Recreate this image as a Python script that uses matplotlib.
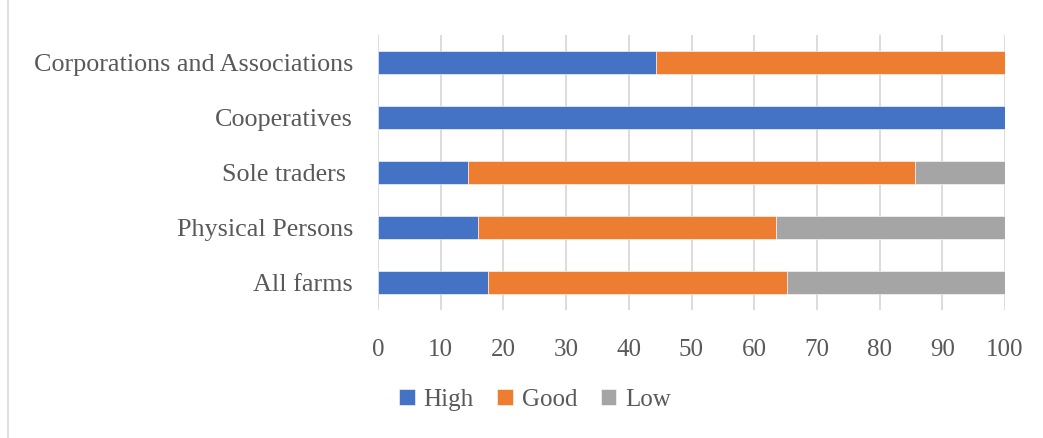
import matplotlib
matplotlib.use("Agg")
import matplotlib.pyplot as plt
from matplotlib.patches import Rectangle

categories = ["All farms", "Physical Persons", "Sole traders ", "Cooperatives",
              "Corporations and Associations"]
high = [17.5, 16.0, 14.3, 100.0, 44.4]
good = [47.7, 47.4, 71.4, 0.0, 55.6]
low = [34.8, 36.6, 14.3, 0.0, 0.0]
series_names = ["High", "Good", "Low"]
colors = ["#4472C4", "#ED7D31", "#A5A5A5"]
xticks = list(range(0, 101, 10))

plt.rcParams['font.family'] = ['Liberation Serif', 'DejaVu Serif']
text_color = "#595959"

fig = plt.figure(figsize=(10.43, 4.38), dpi=100)
ax = fig.add_axes([378/1043, 1 - 310/438, (1005-378)/1043, 275/438])

y = list(range(len(categories)))
left = [0.0] * len(categories)
for name, vals, c in zip(series_names, [high, good, low], colors):
    ax.barh(y, vals, left=left, height=0.42, color=c, label=name,
            edgecolor="white", linewidth=0.4, zorder=3)
    left = [l + v for l, v in zip(left, vals)]

ax.set_xlim(0, 100)
ax.set_ylim(-0.5, len(categories) - 0.5)
ax.set_xticks(xticks)
ax.set_yticks(y)
ax.set_yticklabels(categories)
ax.tick_params(axis='both', length=0, colors=text_color)
ax.tick_params(axis='x', pad=21, labelsize=18)
ax.tick_params(axis='y', pad=18, labelsize=18.8)
ax.xaxis.grid(True, color="#d9d9d9", linewidth=1.3, zorder=0)
ax.set_axisbelow(True)
for s in ax.spines.values():
    s.set_visible(False)

leg = fig.legend(loc='center', bbox_to_anchor=(535/1043, 1 - 400/438), ncol=3,
                 frameon=False, fontsize=18, handlelength=0.62, handleheight=0.62,
                 handletextpad=0.35, columnspacing=0.95)
for t in leg.get_texts():
    t.set_color(text_color)

fig.patches.append(Rectangle((8/1043, -0.05), 1.2, 1.2, transform=fig.transFigure,
                             fill=False, edgecolor="#d9d9d9", linewidth=1.2))

fig.savefig("out.png", dpi=100)
